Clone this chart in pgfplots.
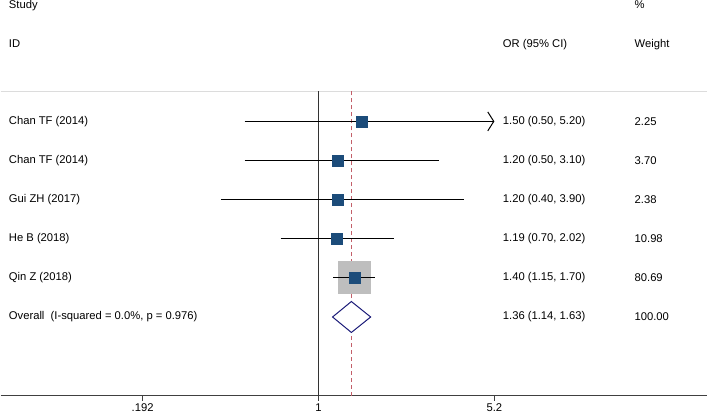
\documentclass[border=0pt]{standalone}
\usepackage{fontspec}
\setmainfont{Liberation Sans}
\usepackage{pgfplots}
\pgfplotsset{compat=1.18}
\usetikzlibrary{arrows.meta}
\definecolor{boxblue}{RGB}{28,76,122}
\definecolor{ovline}{RGB}{195,95,105}
\definecolor{dianavy}{RGB}{26,26,120}
\definecolor{wbox}{RGB}{190,190,190}
\definecolor{sepgray}{RGB}{220,220,220}

\begin{document}
\fontsize{11.3}{13}\selectfont
\begin{tikzpicture}[every node/.style={inner sep=0pt}]
\begin{axis}[
scale only axis,
width=708bp,
height=397bp,
xmode=log,
xmin=0.05073, xmax=38.31,
ymin=0, ymax=397,
axis x line=bottom,
axis y line=none,
axis line style={-, black!75, line width=0.8pt},
xtick={0.192,1,5.2},
xticklabels={.192,1,5.2},
minor x tick num=0,
xtick align=outside,
major tick length=5bp,
tick style={black!75, line width=0.8pt},
xticklabel style={font=\fontsize{11.3}{13}\selectfont, inner sep=1pt, yshift=-1.5bp},
/pgf/number format/assume math mode=true,
clip=false,
]
% separator and reference lines
\addplot[sepgray, line width=1.5pt] coordinates {(0.05073,305) (38.31,305)};
\addplot[ovline, line width=0.9pt, dash pattern=on 4bp off 3bp] coordinates {(1.36,0) (1.36,305)};
\addplot[black!80, line width=0.8pt] coordinates {(1,0) (1,305)};

% weight boxes visible around the point estimates (He B, Qin Z)
\addplot[fill=wbox, draw=none] coordinates {(1.1240,151.3) (1.2599,151.3) (1.2599,163.5) (1.1240,163.5)};
\addplot[fill=wbox, draw=none] coordinates {(1.1997,101.7) (1.6339,101.7) (1.6339,134.7) (1.1997,134.7)};

% confidence intervals
\addplot[black, line width=1pt, -{Straight Barb[length=6bp, width=19bp, line width=1pt]}] coordinates {(0.50,275) (5.20,275)};
\addplot[black, line width=1pt] coordinates {(0.50,235.8) (3.10,235.8)};
\addplot[black, line width=1pt] coordinates {(0.40,196.6) (3.90,196.6)};
\addplot[black, line width=1pt] coordinates {(0.70,157.4) (2.02,157.4)};
\addplot[black, line width=1pt] coordinates {(1.15,118.2) (1.70,118.2)};

% point estimates
\addplot[only marks, mark=square*, mark size=5.5bp, mark options={fill=boxblue, draw=boxblue}] coordinates {
(1.50,275) (1.20,235.8) (1.20,196.6) (1.19,157.4) (1.40,118.2)};

% overall diamond
\addplot[dianavy, fill=white, line width=1pt, line join=miter] coordinates {
(1.14,79) (1.36,94.5) (1.63,79) (1.36,63.5) (1.14,79) (1.36,94.5)};

% headers
\node[anchor=base west] at (axis cs:0.05467,388.5) {Study};
\node[anchor=base west] at (axis cs:0.05467,349.5) {ID};
\node[anchor=base west] at (axis cs:5.623,349.5) {OR (95\% CI)};
\node[anchor=base west] at (axis cs:19.35,388.5) {\%};
\node[anchor=base west] at (axis cs:19.35,349.5) {Weight};

% study labels
\node[anchor=west] at (axis cs:0.05467,275) {Chan TF (2014)};
\node[anchor=west] at (axis cs:0.05467,235.8) {Chan TF (2014)};
\node[anchor=west] at (axis cs:0.05467,196.6) {Gui ZH (2017)};
\node[anchor=west] at (axis cs:0.05467,157.4) {He B (2018)};
\node[anchor=west] at (axis cs:0.05467,118.2) {Qin Z (2018)};
\node[anchor=west] at (axis cs:0.05467,79) {Overall\ \ (I-squared = 0.0\%, p = 0.976)};

% OR column
\node[anchor=west] at (axis cs:5.623,275) {1.50 (0.50, 5.20)};
\node[anchor=west] at (axis cs:5.623,235.8) {1.20 (0.50, 3.10)};
\node[anchor=west] at (axis cs:5.623,196.6) {1.20 (0.40, 3.90)};
\node[anchor=west] at (axis cs:5.623,157.4) {1.19 (0.70, 2.02)};
\node[anchor=west] at (axis cs:5.623,118.2) {1.40 (1.15, 1.70)};
\node[anchor=west] at (axis cs:5.623,79) {1.36 (1.14, 1.63)};

% weight column
\node[anchor=west] at (axis cs:19.35,275) {2.25};
\node[anchor=west] at (axis cs:19.35,235.8) {3.70};
\node[anchor=west] at (axis cs:19.35,196.6) {2.38};
\node[anchor=west] at (axis cs:19.35,157.4) {10.98};
\node[anchor=west] at (axis cs:19.35,118.2) {80.69};
\node[anchor=west] at (axis cs:19.35,79) {100.00};
\end{axis}
\end{tikzpicture}
\end{document}
